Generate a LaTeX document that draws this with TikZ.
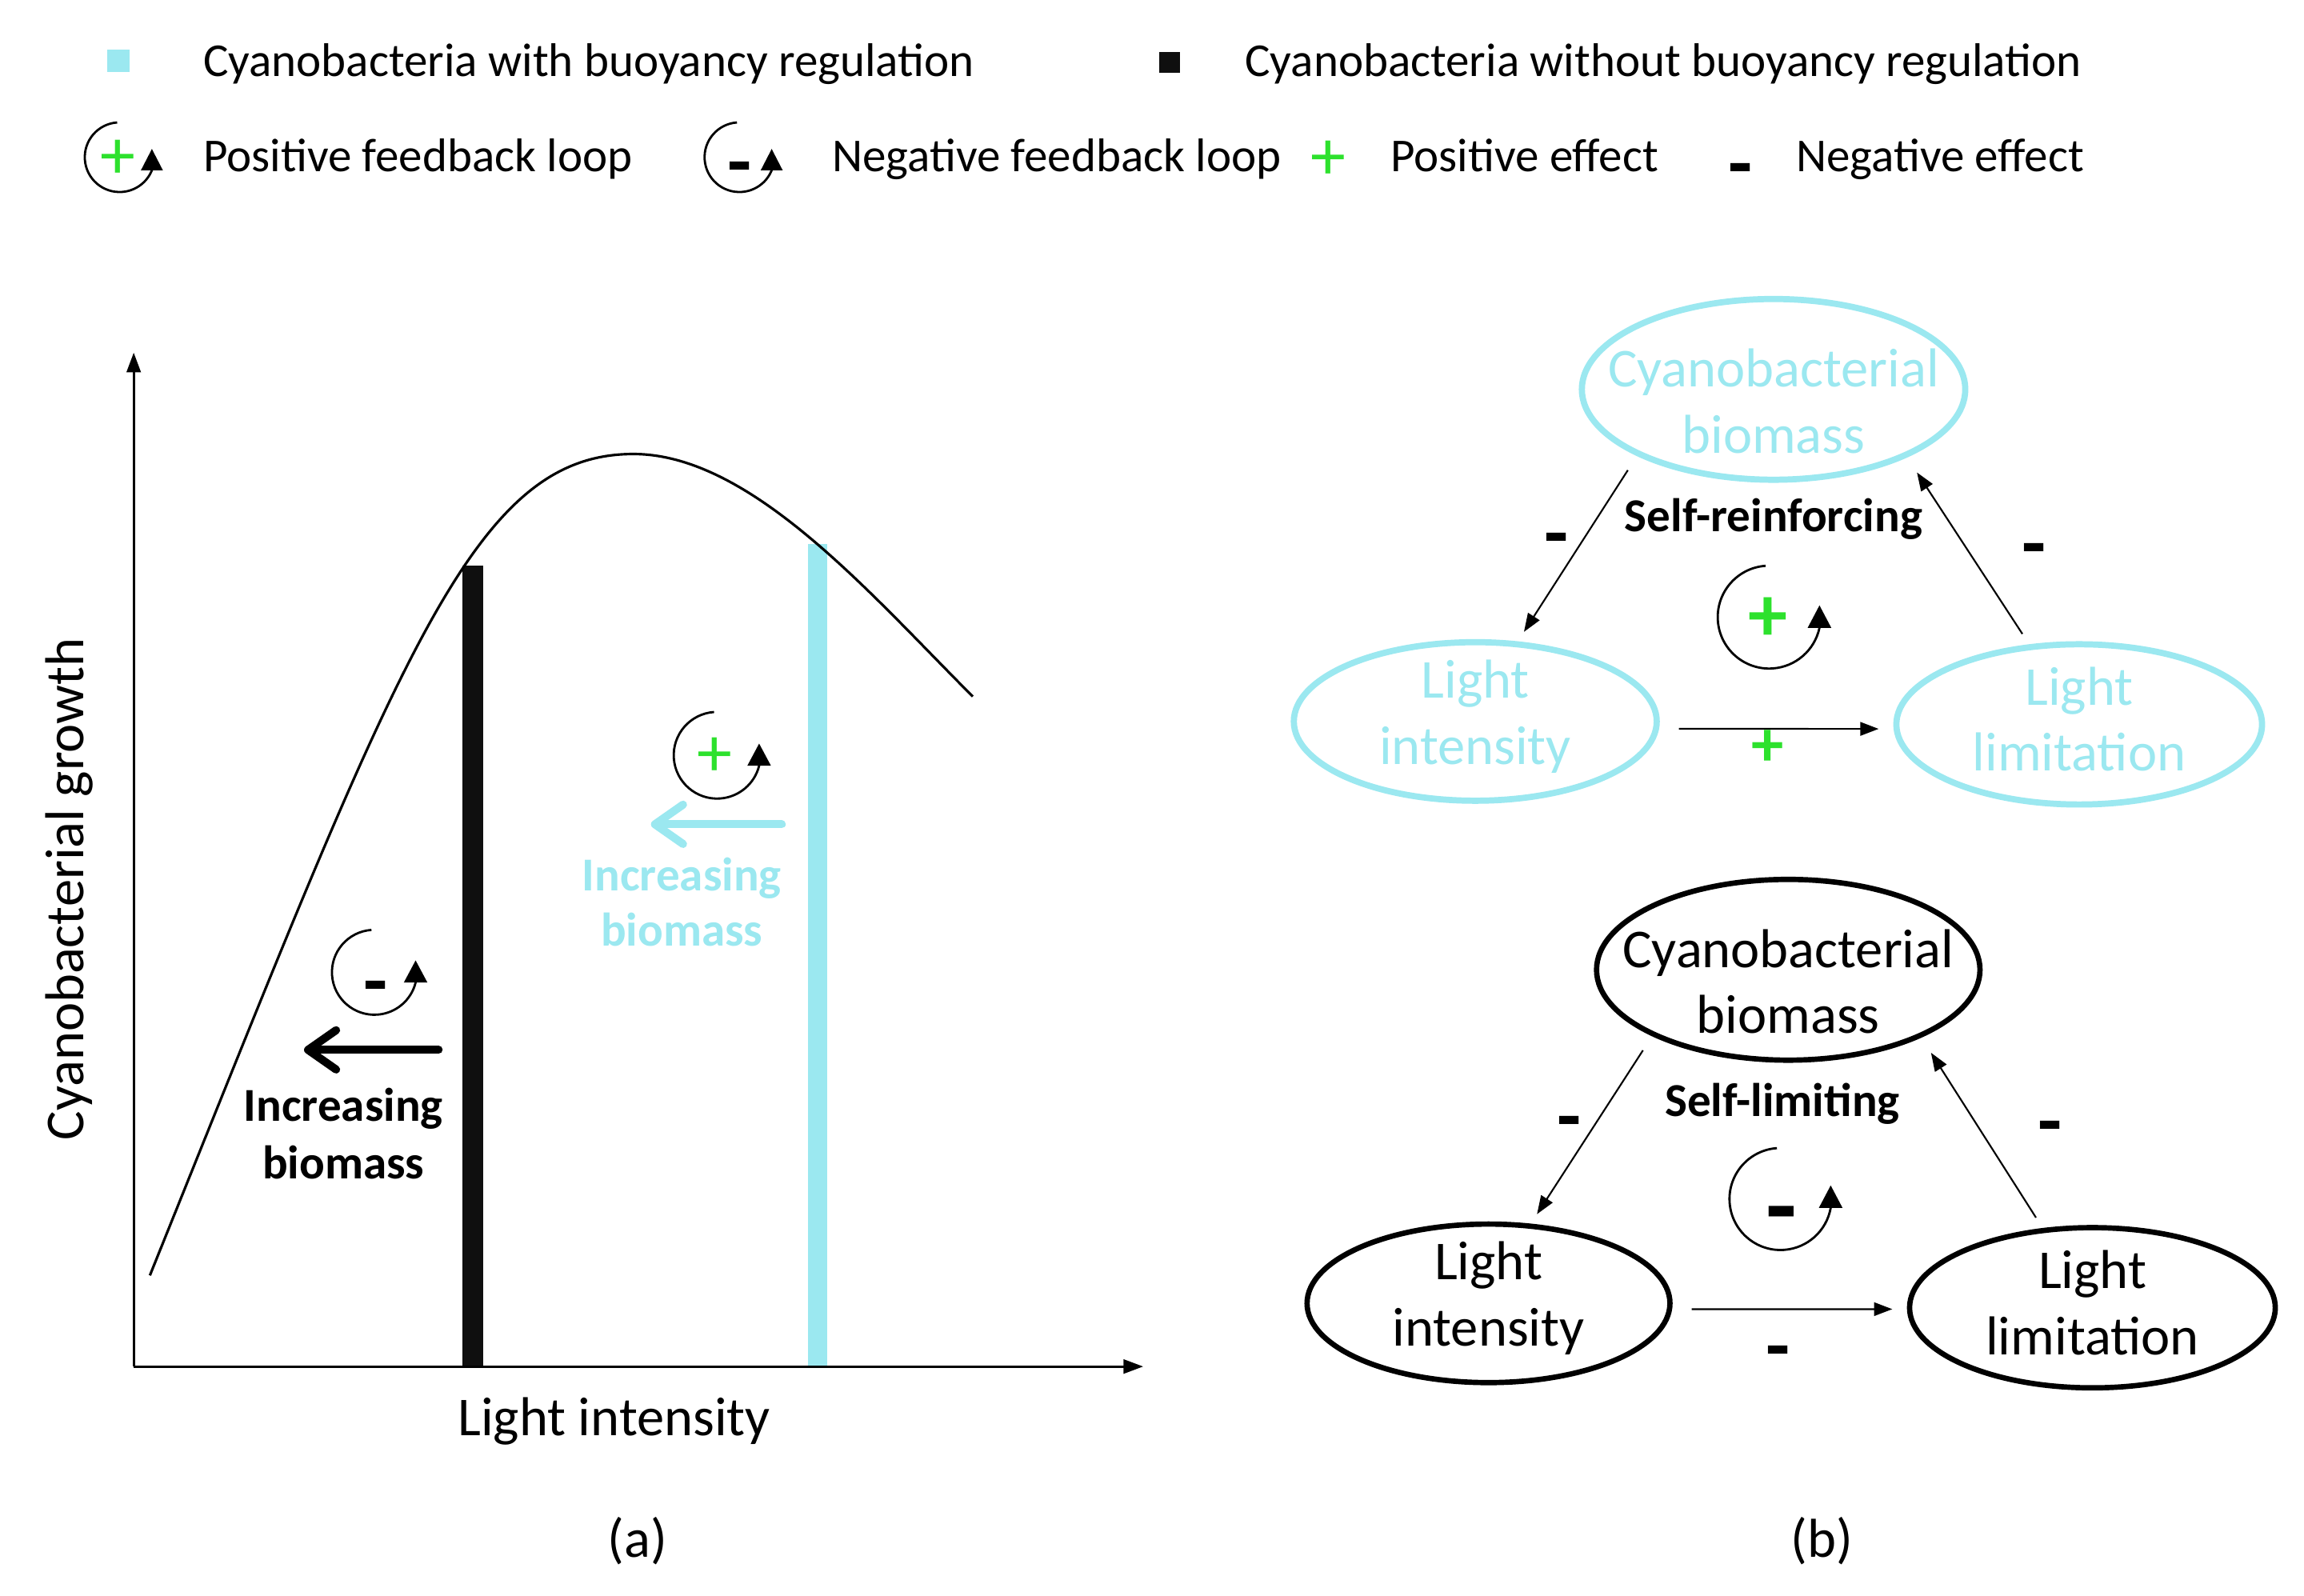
\documentclass[tikz,border=0pt]{standalone}
\usepackage{fontspec}
\setmainfont{Carlito}
\usetikzlibrary{arrows.meta,calc,shapes.geometric}
\definecolor{cyanc}{RGB}{155,232,240}
\definecolor{greenc}{RGB}{45,225,45}
\definecolor{barblack}{RGB}{15,15,15}
\tikzset{
 lg/.style={font=\fontsize{16.8}{20}\selectfont, anchor=base west, inner sep=0pt},
 big/.style={font=\fontsize{19.5}{23.5}\selectfont, inner sep=0pt},
 bld/.style={font=\bfseries\fontsize{16.8}{20}\selectfont, inner sep=0pt, anchor=base},
 sgn/.style={font=\bfseries\fontsize{28}{28}\selectfont, inner sep=0pt, anchor=base},
 plus/.style={font=\fontsize{25}{25}\selectfont, text=greenc, inner sep=0pt},
 bplus/.style={font=\bfseries\fontsize{28}{28}\selectfont, text=greenc, inner sep=0pt},
 axisline/.style={line width=0.8pt, -{Triangle[length=7pt,width=5pt]}},
 loopline/.style={line width=0.8pt},
 ell/.style={ellipse, draw, inner sep=0pt},
 ltxt/.style={align=center, inner sep=0pt, font=\fontsize{19.5}{23.5}\selectfont},
 cyanell/.style={ell, draw=cyanc, line width=2.2pt},
 blackell/.style={ell, draw=black, line width=1.9pt},
 topell/.style={minimum width=136.4pt, minimum height=64.3pt},
 leftell/.style={minimum width=129.1pt, minimum height=56.4pt},
 rightell/.style={minimum width=130.1pt, minimum height=57pt},
 conn/.style={line width=0.6pt, -{Triangle[length=6.5pt,width=4.8pt]}},
 bigarrow/.style={line width=2.85pt, line cap=round, -{Straight Barb[round,length=10pt,width=14pt]}},
}
% feedback-loop symbol: x, y, radius, end angle, tip length (pt), tip width (pt), tip length in units
\newcommand\fbloop[7]{%
 \draw[loopline, -{Triangle[length=#5,width=#6]}] ($(#1,#2)+(94:#3)$) arc[start angle=94, end angle=#4, radius=#3] -- ++(90:#7);
}
\begin{document}
\begin{tikzpicture}[x=0.018367cm,y=0.018367cm]
\useasboundingbox[fill=white] (0,0) rectangle (1568,1086);

% ---------- legend ----------
\node[fill=cyanc, minimum size=7.8pt, inner sep=0pt] (sqc) at (80.5,1044.5) {};
\node[lg] (leg1) at (138,1034) {Cyanobacteria with buoyancy regulation};
\node[fill=barblack, minimum size=7.3pt, inner sep=0pt] (sqb) at (796,1043.5) {};
\node[lg] (leg2) at (847,1034) {Cyanobacteria without buoyancy regulation};
\fbloop{81.4}{979}{23.7}{338}{7.6pt}{7.6pt}{14.5}
\node[plus] (legp1) at (80,977.5) {+};
\node[lg] (leg3) at (138,969) {Positive feedback loop};
\fbloop{503.2}{979}{23.7}{338}{7.6pt}{7.6pt}{14.5}
\node[sgn] (legm1) at (503.6,957.6) {-};
\node[lg] (leg4) at (566,969) {Negative feedback loop};
\node[plus] (legp2) at (904,977) {+};
\node[lg] (leg5) at (946,969) {Positive effect};
\node[sgn] (legm2) at (1184.5,956.7) {-};
\node[lg] (leg6) at (1222,969) {Negative effect};

% ---------- panel (a) ----------
\coordinate (O) at (91,156);
\coordinate (ytip) at (91,846);
\coordinate (xtip) at (778,156);
\fill[barblack] (314.5,156) rectangle (329,701);
\fill[cyanc] (549.7,156) rectangle (562.7,716);
\draw[axisline] (O) -- (ytip);
\draw[axisline] (O) -- (xtip);
\coordinate (cs) at (102,218);
\coordinate (cp) at (431,777);
\coordinate (ce) at (662,612);
\draw[line width=0.9pt] (cs) .. controls (272,640) and (321,777) .. (cp)
                             .. controls (511,777) and (592,682) .. (ce);

\node[big, anchor=base] (xl) at (418,109) {Light intensity};
\node[big, anchor=base, rotate=90] (yl) at (57,481) {Cyanobacterial growth};
\node[big, anchor=base] (la) at (434,26) {(a)};
\node[big, anchor=base] (lb) at (1240,26) {(b)};

\fbloop{254.8}{424.3}{28.9}{346}{7.9pt}{8.2pt}{15.1}
\node[sgn] (pm) at (255.9,400.4) {-};
\coordinate (ba1) at (298.5,371.5);
\coordinate (ba2) at (206.9,371.5);
\draw[bigarrow] (ba1) -- (ba2);
\node[bld] (ib1) at (233.7,322.8) {Increasing};
\node[bld] (ib2) at (233.7,284) {biomass};

\fbloop{488}{572}{29.5}{346}{7.9pt}{8.2pt}{15.1}
\node[plus] (pp) at (486.4,570.6) {+};
\coordinate (ca1) at (532,525);
\coordinate (ca2) at (443,525);
\draw[bigarrow, cyanc] (ca1) -- (ca2);
\node[bld, text=cyanc] (ic1) at (464,480) {Increasing};
\node[bld, text=cyanc] (ic2) at (464,442) {biomass};

% ---------- panel (b), top: self-reinforcing ----------
\node[cyanell, topell, label={[ltxt, text=cyanc, name=t1txt]center:{\rule{0pt}{22pt}Cyanobacterial\\biomass}}] (t1) at (1207,821) {};
\node[cyanell, leftell, label={[ltxt, text=cyanc, yshift=1.8pt, name=le1txt]center:{Light\\intensity}}] (le1) at (1004,595) {};
\node[cyanell, rightell, label={[ltxt, text=cyanc, yshift=1.8pt, name=re1txt]center:{Light\\limitation}}] (re1) at (1415,593) {};
\draw[conn, shorten <=6pt, shorten >=4pt] (t1.206.4) -- (le1.62.2);
\draw[conn, shorten <=4.4pt, shorten >=6.4pt] (re1.122.2) -- (t1.333.4);
\draw[conn] ([xshift=6.8pt,yshift=-2.6pt]le1.east) -- ([xshift=-5.2pt,yshift=-1.6pt]re1.west);
\node[sgn] (s11) at (1059,705) {-};
\node[sgn] (s12) at (1384,698) {-};
\node[bplus, font=\bfseries\fontsize{23}{23}\selectfont] (s13) at (1203,577) {+};
\node[bld] (sr) at (1207,724) {Self-reinforcing};
\fbloop{1204}{666}{35}{348}{8pt}{8.2pt}{15.3}
\node[bplus] (s14) at (1203,664.4) {+};

% ---------- panel (b), bottom: self-limiting ----------
\node[blackell, topell, label={[ltxt, name=t2txt]center:{\rule{0pt}{22pt}Cyanobacterial\\biomass}}] (t2) at (1217,426) {};
\node[blackell, leftell, label={[ltxt, yshift=1.8pt, name=le2txt]center:{Light\\intensity}}] (le2) at (1013,199) {};
\node[blackell, rightell, label={[ltxt, yshift=1.8pt, name=re2txt]center:{Light\\limitation}}] (re2) at (1424,196) {};
\draw[conn, shorten <=6pt, shorten >=4pt] (t2.206.4) -- (le2.62.2);
\draw[conn, shorten <=4.4pt, shorten >=6.4pt] (re2.122.2) -- (t2.333.4);
\draw[conn] ([xshift=6.8pt,yshift=-2.1pt]le2.east) -- ([xshift=-5.2pt,yshift=-0.5pt]re2.west);
\node[sgn] (s21) at (1068,308) {-};
\node[sgn] (s22) at (1395,305) {-};
\node[sgn] (s23) at (1210,152) {-};
\node[bld] (sl) at (1213,326) {Self-limiting};
\fbloop{1211.7}{270}{34.7}{350}{8pt}{8.2pt}{15.3}
\node[sgn, font=\bfseries\fontsize{36}{36}\selectfont] (s24) at (1212.3,241.6) {-};
\end{tikzpicture}
\end{document}
